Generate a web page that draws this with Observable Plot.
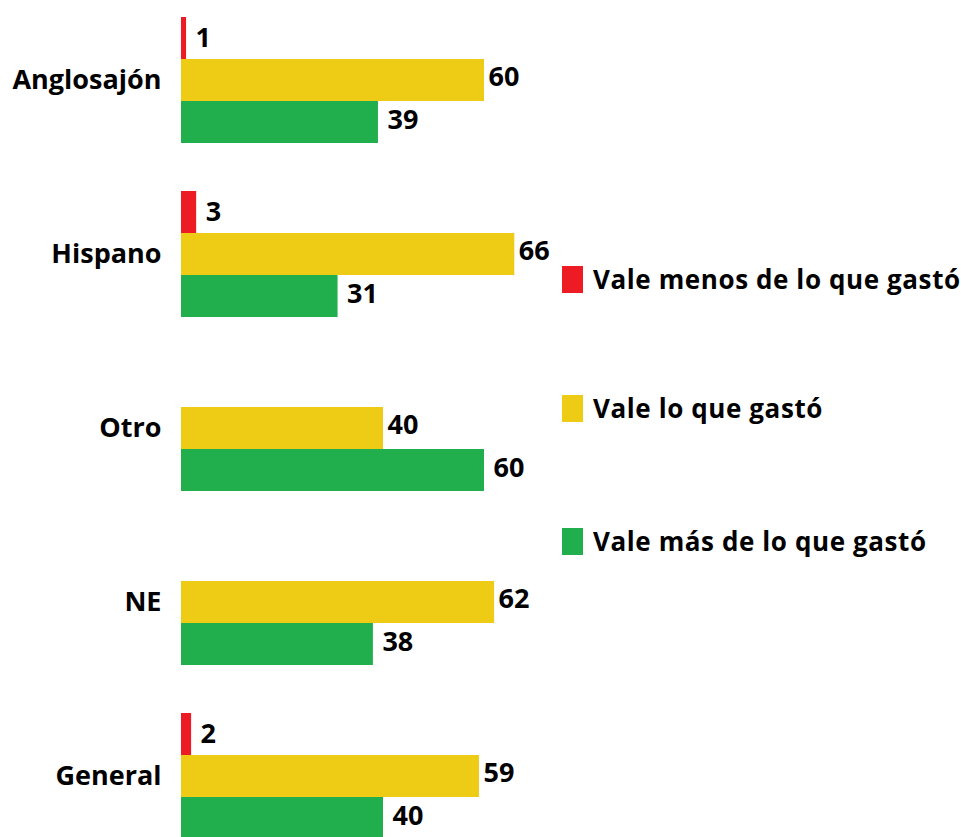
<!DOCTYPE html>
<html>
<head>
<meta charset="utf-8">
<script src="https://cdn.jsdelivr.net/npm/d3@7"></script>
<script src="https://cdn.jsdelivr.net/npm/@observablehq/plot@0.6"></script>
<style>
  html, body { margin: 0; padding: 0; background: #fff; overflow: hidden; }
  #wrap { position: relative; width: 961px; height: 837px; overflow: hidden; }
  .legend-item { position: absolute; display: flex; align-items: center; gap: 10px;
    font-family: "Open Sans", sans-serif; font-weight: 700; font-size: 26px; letter-spacing: 0.6px;
    line-height: 27px; color: #000; white-space: nowrap; }
  .swatch { width: 21px; height: 27px; flex: none; }
</style>
</head>
<body>
<div id="wrap"></div>
<script>
const categories = ["Anglosajón", "Hispano", "Otro", "NE", "General"];
const series = ["Vale menos de lo que gastó", "Vale lo que gastó", "Vale más de lo que gastó"];
const valeMenos = [1, 3, null, null, 2];
const valeIgual = [60, 66, 40, 62, 59];
const valeMas = [39, 31, 60, 38, 40];
const colors = ["#ED1C24", "#EECB15", "#21AE4C"];

const seriesValues = [valeMenos, valeIgual, valeMas];
const rows = [];
categories.forEach((c, i) => {
  series.forEach((s, j) => {
    const v = seriesValues[j][i];
    if (v != null) rows.push({category: c, series: s, value: v});
  });
});

const labelDx = [9, 4, 9];
const labelDy = [0, -3, -2];

const chart = Plot.plot({
  width: 961,
  height: 841,
  marginLeft: 181,
  marginRight: 275,
  marginTop: 15,
  marginBottom: 0,
  style: {fontFamily: "'Open Sans', sans-serif", fontWeight: 700, fontSize: "27px", color: "#000", background: "#fff"},
  x: {domain: [0, 100], axis: null},
  y: {domain: series, axis: null, padding: 0},
  fy: {domain: categories, paddingInner: 0.265, paddingOuter: 0, axis: "left", label: null, tickSize: 0, tickPadding: 20},
  color: {domain: series, range: colors},
  marks: [
    Plot.barX(rows, {x: "value", y: "series", fy: "category", fill: "series"}),
    ...series.map((s, j) => Plot.text(rows.filter(d => d.series === s), {
      x: "value", y: "series", fy: "category", text: d => String(d.value),
      textAnchor: "start", lineAnchor: "middle", dx: labelDx[j], dy: labelDy[j],
      fill: "#000", fontSize: 27, fontWeight: 700
    }))
  ]
});

const wrap = document.getElementById("wrap");
wrap.appendChild(chart);

const legendTops = [266, 395, 528];
const legendLefts = [562, 562, 562];
series.forEach((s, j) => {
  const item = document.createElement("div");
  item.className = "legend-item";
  item.style.left = legendLefts[j] + "px";
  item.style.top = legendTops[j] + "px";
  const sw = document.createElement("div");
  sw.className = "swatch";
  sw.style.background = colors[j];
  const tx = document.createElement("span");
  tx.textContent = s;
  item.appendChild(sw);
  item.appendChild(tx);
  wrap.appendChild(item);
});
</script>
</body>
</html>
